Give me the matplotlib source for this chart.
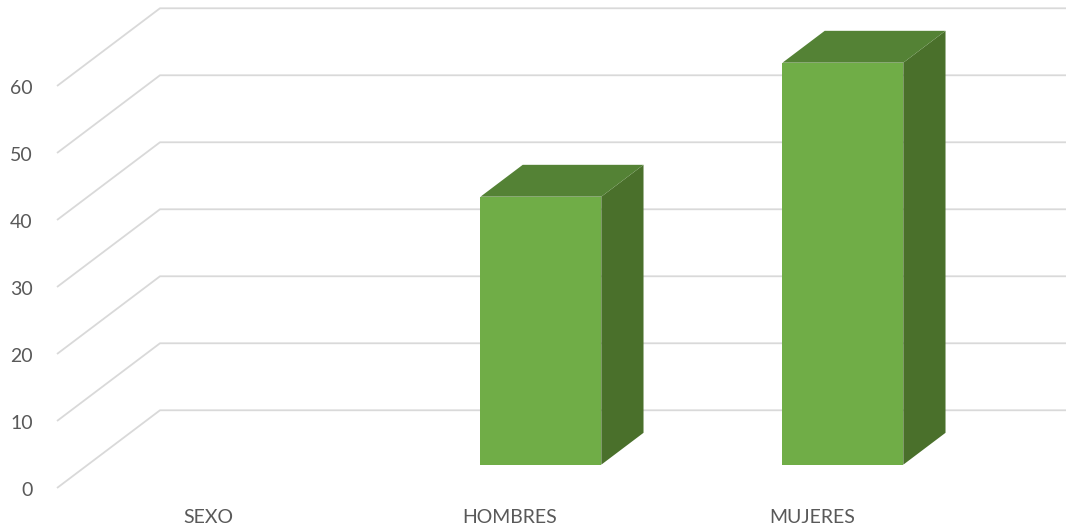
import matplotlib
matplotlib.use("Agg")
import matplotlib.pyplot as plt
from matplotlib.patches import Polygon

categories = ["SEXO", "HOMBRES", "MUJERES"]
values = [0, 40, 60]
y_ticks = [0, 10, 20, 30, 40, 50, 60]

# oblique depth offset (category units, value units)
DX, DY = 0.341, 11.6
bar_w = 0.4
d0, d1 = 0.3, 0.71

front = "#70AD47"
top = "#548235"
side = "#4A702B"
grid = "#D9D9D9"
txt = "#595959"

plt.rcParams['font.family'] = ['Lato', 'DejaVu Sans']

fig = plt.figure(figsize=(10.72, 5.32), dpi=100)
ax = fig.add_axes([0, 0, 1, 1])
ax.set_xlim(-57 / 302, (1072 - 57) / 302)
ax.set_ylim((488 - 532) / 6.7, 488 / 6.7)
ax.axis("off")

n = len(categories)
for v in y_ticks:
    # floor/side diagonal then back wall line
    ax.plot([0, DX, n + DX], [v, v + DY, v + DY], color=grid, lw=1.3,
            solid_capstyle="butt", zorder=1)
    ax.text(-0.08, v - 0.35, str(v), ha="right", va="center", fontsize=14, color=txt)

for i, (cat, val) in enumerate(zip(categories, values)):
    ax.text(i + 0.5, -4.45, cat, ha="center", va="center", fontsize=14, color=txt)
    if val <= 0:
        continue
    x0 = i + 0.5 - bar_w / 2 + d0 * DX
    x1 = x0 + bar_w
    yb = d0 * DY
    yt = yb + val
    ddx = (d1 - d0) * DX
    ddy = (d1 - d0) * DY
    ax.add_patch(Polygon([(x1, yb), (x1 + ddx, yb + ddy), (x1 + ddx, yt + ddy), (x1, yt)],
                         closed=True, facecolor=side, edgecolor="none", zorder=3))
    ax.add_patch(Polygon([(x0, yt), (x1, yt), (x1 + ddx, yt + ddy), (x0 + ddx, yt + ddy)],
                         closed=True, facecolor=top, edgecolor="none", zorder=3))
    ax.add_patch(Polygon([(x0, yb), (x1, yb), (x1, yt), (x0, yt)],
                         closed=True, facecolor=front, edgecolor="none", zorder=4))

fig.savefig("out.png", dpi=100)
